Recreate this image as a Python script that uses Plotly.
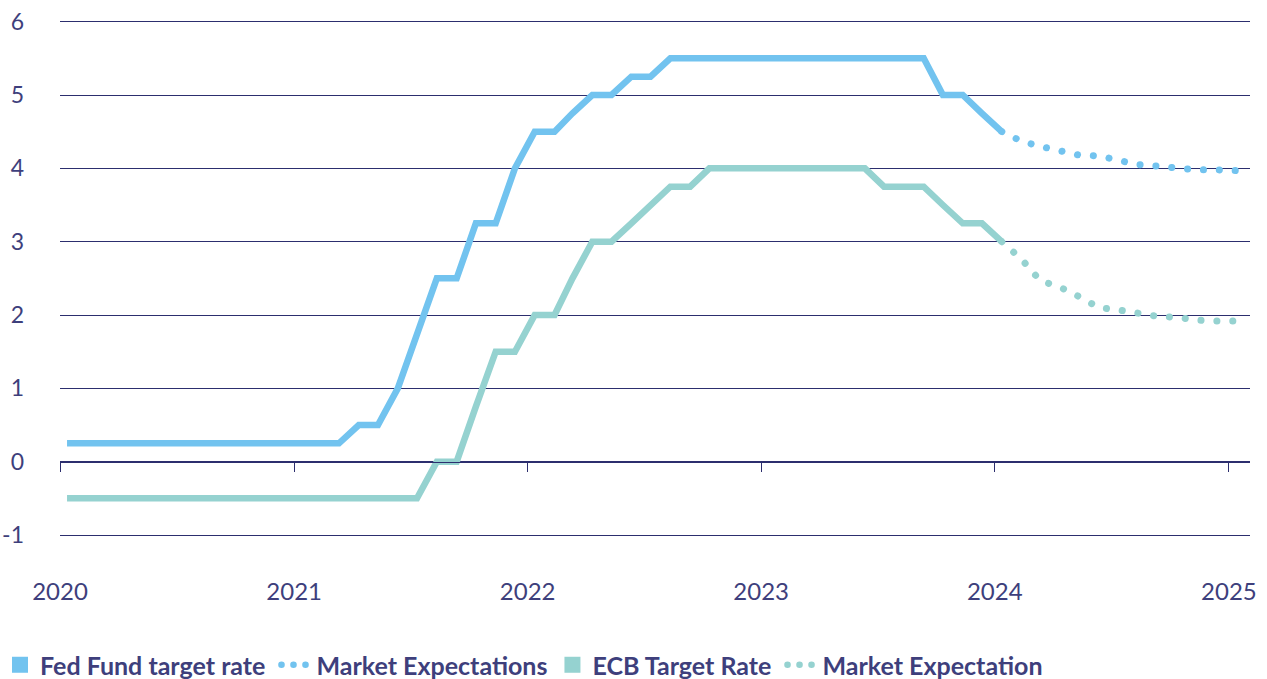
import pandas as pd
import plotly.graph_objects as go

# ---- data ----
months = pd.date_range("2020-01-01", periods=61, freq="MS") + pd.Timedelta(days=11)
year_ticks = ["2020-01-01", "2021-01-01", "2022-01-01", "2023-01-01", "2024-01-01", "2025-01-01"]
year_labels = ["2020", "2021", "2022", "2023", "2024", "2025"]

fed_actual = [0.25] * 15 + [0.5, 0.5, 1.0, 1.75, 2.5, 2.5, 3.25, 3.25, 4.0, 4.5, 4.5, 4.75, 5.0, 5.0,
                            5.25, 5.25] + [5.5] * 14 + [5.0, 5.0, 4.75, 4.5]
fed_expect = [4.5, 4.37, 4.30, 4.24, 4.18, 4.17, 4.11, 4.05, 4.03, 4.0, 3.98, 3.98, 3.97]
ecb_actual = [-0.5] * 19 + [0.0, 0.0, 0.75, 1.5, 1.5, 2.0, 2.0, 2.5, 3.0, 3.0, 3.25, 3.5, 3.75, 3.75] + \
             [4.0] * 9 + [3.75, 3.75, 3.75, 3.5, 3.25, 3.25, 3.0]
ecb_expect = [3.0, 2.76, 2.47, 2.38, 2.25, 2.10, 2.07, 2.02, 1.98, 1.97, 1.93, 1.92, 1.92]

legend_names = ["Fed Fund target rate\u00a0", "Market Expectations", "ECB Target Rate\u00a0",
                "Market Expectation"]

x_actual = [d.strftime("%Y-%m-%d") for d in months[:len(fed_actual)]]
x_expect = [d.strftime("%Y-%m-%d") for d in months[len(fed_actual) - 1:]]

BLUE = "#72C3EF"
TEAL = "#95D2D0"
NAVY = "#2C2E6E"
TEXT = "#3E3F7C"
FONT = "Lato"
DOT = "0.1px,15.8px"
DOT_LEGEND = "0.1px,11.9px"

Y_MIN, Y_MAX = -1.545, 6.05
X_RANGE = ["2020-01-01", "2025-02-03"]

fig = go.Figure()

# legend entries (in legend order)
fig.add_trace(go.Scatter(x=[None], y=[None], mode="markers", name=legend_names[0],
                         marker=dict(symbol="square", size=17, color=BLUE)))
fig.add_trace(go.Scatter(x=[None], y=[None], mode="lines", name=legend_names[1],
                         line=dict(color=BLUE, width=6.5, dash=DOT_LEGEND)))
fig.add_trace(go.Scatter(x=[None], y=[None], mode="markers", name=legend_names[2],
                         marker=dict(symbol="square", size=17, color=TEAL)))
fig.add_trace(go.Scatter(x=[None], y=[None], mode="lines", name=legend_names[3],
                         line=dict(color=TEAL, width=6.5, dash=DOT_LEGEND)))

# data
fig.add_trace(go.Scatter(x=x_expect, y=fed_expect, mode="lines", showlegend=False,
                         line=dict(color=BLUE, width=7, dash=DOT)))
fig.add_trace(go.Scatter(x=x_expect, y=ecb_expect, mode="lines", showlegend=False,
                         line=dict(color=TEAL, width=7, dash=DOT)))
fig.add_trace(go.Scatter(x=x_actual, y=fed_actual, mode="lines", showlegend=False,
                         line=dict(color=BLUE, width=6.5)))
fig.add_trace(go.Scatter(x=x_actual, y=ecb_actual, mode="lines", showlegend=False,
                         line=dict(color=TEAL, width=6.5)))
# helper trace for the zero axis with year ticks
fig.add_trace(go.Scatter(x=[year_ticks[0]], y=[None], xaxis="x2", showlegend=False, hoverinfo="skip"))

fig.update_layout(
    width=1267, height=679,
    margin=dict(l=60, r=17, t=18, b=104, autoexpand=False),
    paper_bgcolor="white", plot_bgcolor="white",
    font=dict(family=FONT, color=TEXT, size=24),
    xaxis=dict(type="date", range=X_RANGE, tickvals=year_ticks, ticktext=year_labels, showgrid=False,
               zeroline=False, showline=False, ticks="", tickfont=dict(size=24, color=TEXT),
               ticklabelstandoff=0, automargin=False),
    xaxis2=dict(type="date", range=X_RANGE, tickvals=year_ticks, overlaying="x", anchor="free",
                position=(0 - Y_MIN) / (Y_MAX - Y_MIN), side="bottom", showline=True,
                linecolor=NAVY, linewidth=1.3, ticks="outside", ticklen=9, tickwidth=1.3,
                tickcolor=NAVY, showticklabels=False, showgrid=False, zeroline=False,
                automargin=False),
    yaxis=dict(range=[Y_MIN, Y_MAX], tickvals=[-1, 0, 1, 2, 3, 4, 5, 6],
               ticktext=["-1", "0", "1", "2", "3", "4", "5", "6"],
               showgrid=True, gridcolor=NAVY, gridwidth=1.3, zeroline=False, showline=False,
               ticks="", tickfont=dict(size=23, color=TEXT), ticklabelstandoff=35,
               automargin=False),
    legend=dict(orientation="h", xref="container", yref="paper", x=-0.003, y=-0.1616,
                xanchor="left", yanchor="middle",
                font=dict(family=FONT, size=25, color=TEXT, weight="bold"),
                itemwidth=30, bgcolor="rgba(0,0,0,0)"),
    showlegend=True,
)

post = """
document.body.style.margin = '0';
function roundDots(){
  document.querySelectorAll('path').forEach(function(p){
    var d = p.style.strokeDasharray;
    if (d && d !== 'none' && d !== '') { p.style.strokeLinecap = 'round'; }
  });
}
roundDots();
setTimeout(roundDots, 50);
"""

fig.write_html("out.html", post_script=post, config={"displayModeBar": False})
